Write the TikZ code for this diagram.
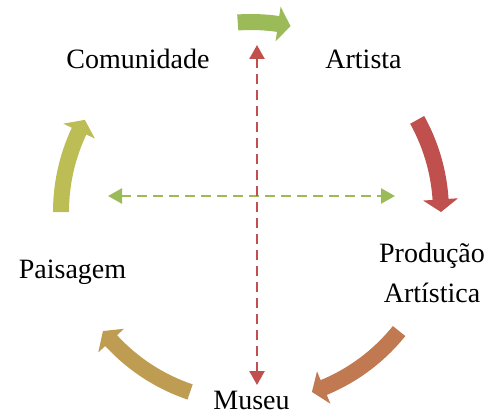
\documentclass[tikz,border=0pt]{standalone}
\usepackage{fontspec}
\setmainfont{Liberation Serif}
\usetikzlibrary{arrows.meta}

\definecolor{cgreen}{RGB}{155,187,89}
\definecolor{cred}{RGB}{192,80,77}
\definecolor{corange}{RGB}{192,121,81}
\definecolor{ctan}{RGB}{190,156,82}
\definecolor{colive}{RGB}{188,189,85}

% curved block arrow on the cycle circle, running clockwise
% #1 = tail angle, #2 = tip angle, #3 = colour
\newcommand\cyclearrow[3]{%
  \fill[#3]
    (#1:198pt) arc[start angle=#1, end angle={#2+3.8}, radius=198pt]
    -- ({#2+3.8}:207.5pt) -- (#2:190pt) -- ({#2+3.8}:172.5pt)
    -- ({#2+3.8}:182pt) arc[start angle={#2+3.8}, end angle=#1, radius=182pt]
    -- cycle;}

\tikzset{
  label/.style={font=\fontsize{28}{40}\selectfont, inner sep=0pt, anchor=base},
  guide/.style={line width=2.5pt, dash pattern=on 9.5pt off 6.5pt,
    {Triangle[width=15pt,length=14pt]}-{Triangle[width=15pt,length=14pt]}}
}

\begin{document}
\begin{tikzpicture}
  \useasboundingbox (0pt,0pt) rectangle (489pt,416pt);

  % cycle arrows around the centre
  \begin{scope}[shift={(251pt,204pt)}]
    \cyclearrow{94}{78}{cgreen}
    \cyclearrow{29}{0}{cred}
    \cyclearrow{-38.8}{-71.3}{corange}
    \cyclearrow{-108.7}{-141.2}{ctan}
    \cyclearrow{180}{151}{colive}
  \end{scope}

  % labels
  \node[label] (comunidade) at (138pt,348pt) {Comunidade};
  \node[label] (artista) at (363.5pt,348pt) {Artista};
  \node[label] (producao) at (432pt,154pt)
    {\begin{tabular}[t]{@{}c@{}}Produção\\Artística\end{tabular}};
  \node[label] (paisagem) at (72.5pt,138pt) {Paisagem};
  \node[label] (museu) at (251.5pt,7pt) {Museu};

  % dashed cross
  \coordinate (vtop) at (257pt,371pt);
  \coordinate (vbot) at (257pt,31pt);
  \coordinate (hleft) at (108pt,220pt);
  \coordinate (hright) at (395pt,220pt);
  \draw[guide, cgreen] (hleft) -- (hright);
  \draw[guide, cred] (vtop) -- (vbot);
\end{tikzpicture}
\end{document}
